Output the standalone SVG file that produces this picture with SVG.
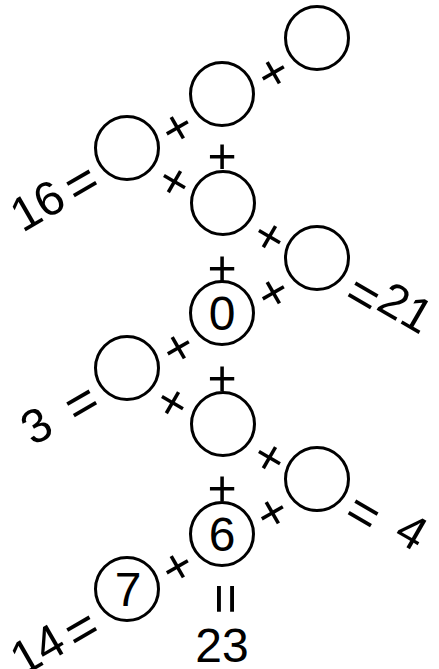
<svg xmlns="http://www.w3.org/2000/svg" width="439" height="669" viewBox="0 0 439 669">
<style>
.c{fill:#fff;stroke:#000;stroke-width:3}
.t{font-family:"Liberation Sans",Arial,sans-serif;font-size:48px;fill:#000;text-anchor:middle}
.e{font-family:"Liberation Sans",Arial,sans-serif;font-size:53px;fill:#000;text-anchor:middle}
.p{font-family:"Liberation Sans",Arial,sans-serif;font-size:50px;fill:#000;text-anchor:middle}
</style>
<rect width="439" height="669" fill="#fff"/>
<g id="nodes">
<g id="nA"><circle class="c" cx="317" cy="38" r="31.5"/></g>
<g id="nB"><circle class="c" cx="222" cy="94" r="31.5"/></g>
<g id="nC"><circle class="c" cx="127" cy="148" r="31.5"/></g>
<g id="nD"><circle class="c" cx="223" cy="203" r="31.5"/></g>
<g id="nE"><circle class="c" cx="317" cy="258" r="31.5"/></g>
<g id="n0"><circle class="c" cx="222" cy="313" r="31.5"/><text class="t" x="222" y="330">0</text></g>
<g id="nF"><circle class="c" cx="127" cy="368" r="31.5"/></g>
<g id="nG"><circle class="c" cx="223" cy="424" r="31.5"/></g>
<g id="nH"><circle class="c" cx="317" cy="479" r="31.5"/></g>
<g id="n6"><circle class="c" cx="222" cy="534" r="31.5"/><text class="t" x="222" y="551">6</text></g>
<g id="n7"><circle class="c" cx="127" cy="589" r="31.5"/><text class="t" x="128" y="606">7</text></g>
</g>
<g id="connectors">
<text class="p" transform="translate(177,127) rotate(-30)" y="17.5">+</text>
<text class="p" transform="translate(273,72) rotate(-30)" y="17.5">+</text>
<text class="p" transform="translate(222,155)" y="17.5">+</text>
<text class="p" transform="translate(175,181) rotate(30)" y="17.5">+</text>
<text class="p" transform="translate(270,236) rotate(30)" y="17.5">+</text>
<text class="p" transform="translate(222,267)" y="17.5">+</text>
<text class="p" transform="translate(273,292) rotate(-30)" y="17.5">+</text>
<text class="p" transform="translate(178,347) rotate(-30)" y="17.5">+</text>
<text class="p" transform="translate(222,377)" y="17.5">+</text>
<text class="p" transform="translate(173,402) rotate(30)" y="17.5">+</text>
<text class="p" transform="translate(270,457) rotate(30)" y="17.5">+</text>
<text class="p" transform="translate(222,487)" y="17.5">+</text>
<text class="p" transform="translate(272,512) rotate(-30)" y="17.5">+</text>
<text class="p" transform="translate(177,566) rotate(-30)" y="17.5">+</text>
</g>
<g id="labels">
<text class="e" transform="translate(81,182) rotate(-30)" y="19">=</text>
<text class="t" transform="translate(37,205) rotate(-30)" y="17">16</text>
<text class="e" transform="translate(364,294) rotate(30)" y="19">=</text>
<text class="t" transform="translate(406,307) rotate(30)" y="17">21</text>
<text class="e" transform="translate(81,402) rotate(-30)" y="19">=</text>
<text class="t" transform="translate(36,425) rotate(-30)" y="17">3</text>
<text class="e" transform="translate(364,512) rotate(30)" y="19">=</text>
<text class="t" transform="translate(412,531) rotate(30)" y="17">4</text>
<text class="e" transform="translate(81,628) rotate(-30)" y="19">=</text>
<text class="t" transform="translate(37,649) rotate(-30)" y="17">14</text>
<text class="e" transform="translate(227,599) rotate(90)" y="19">=</text>
<text class="t" x="222" y="662">23</text>
</g>
</svg>
